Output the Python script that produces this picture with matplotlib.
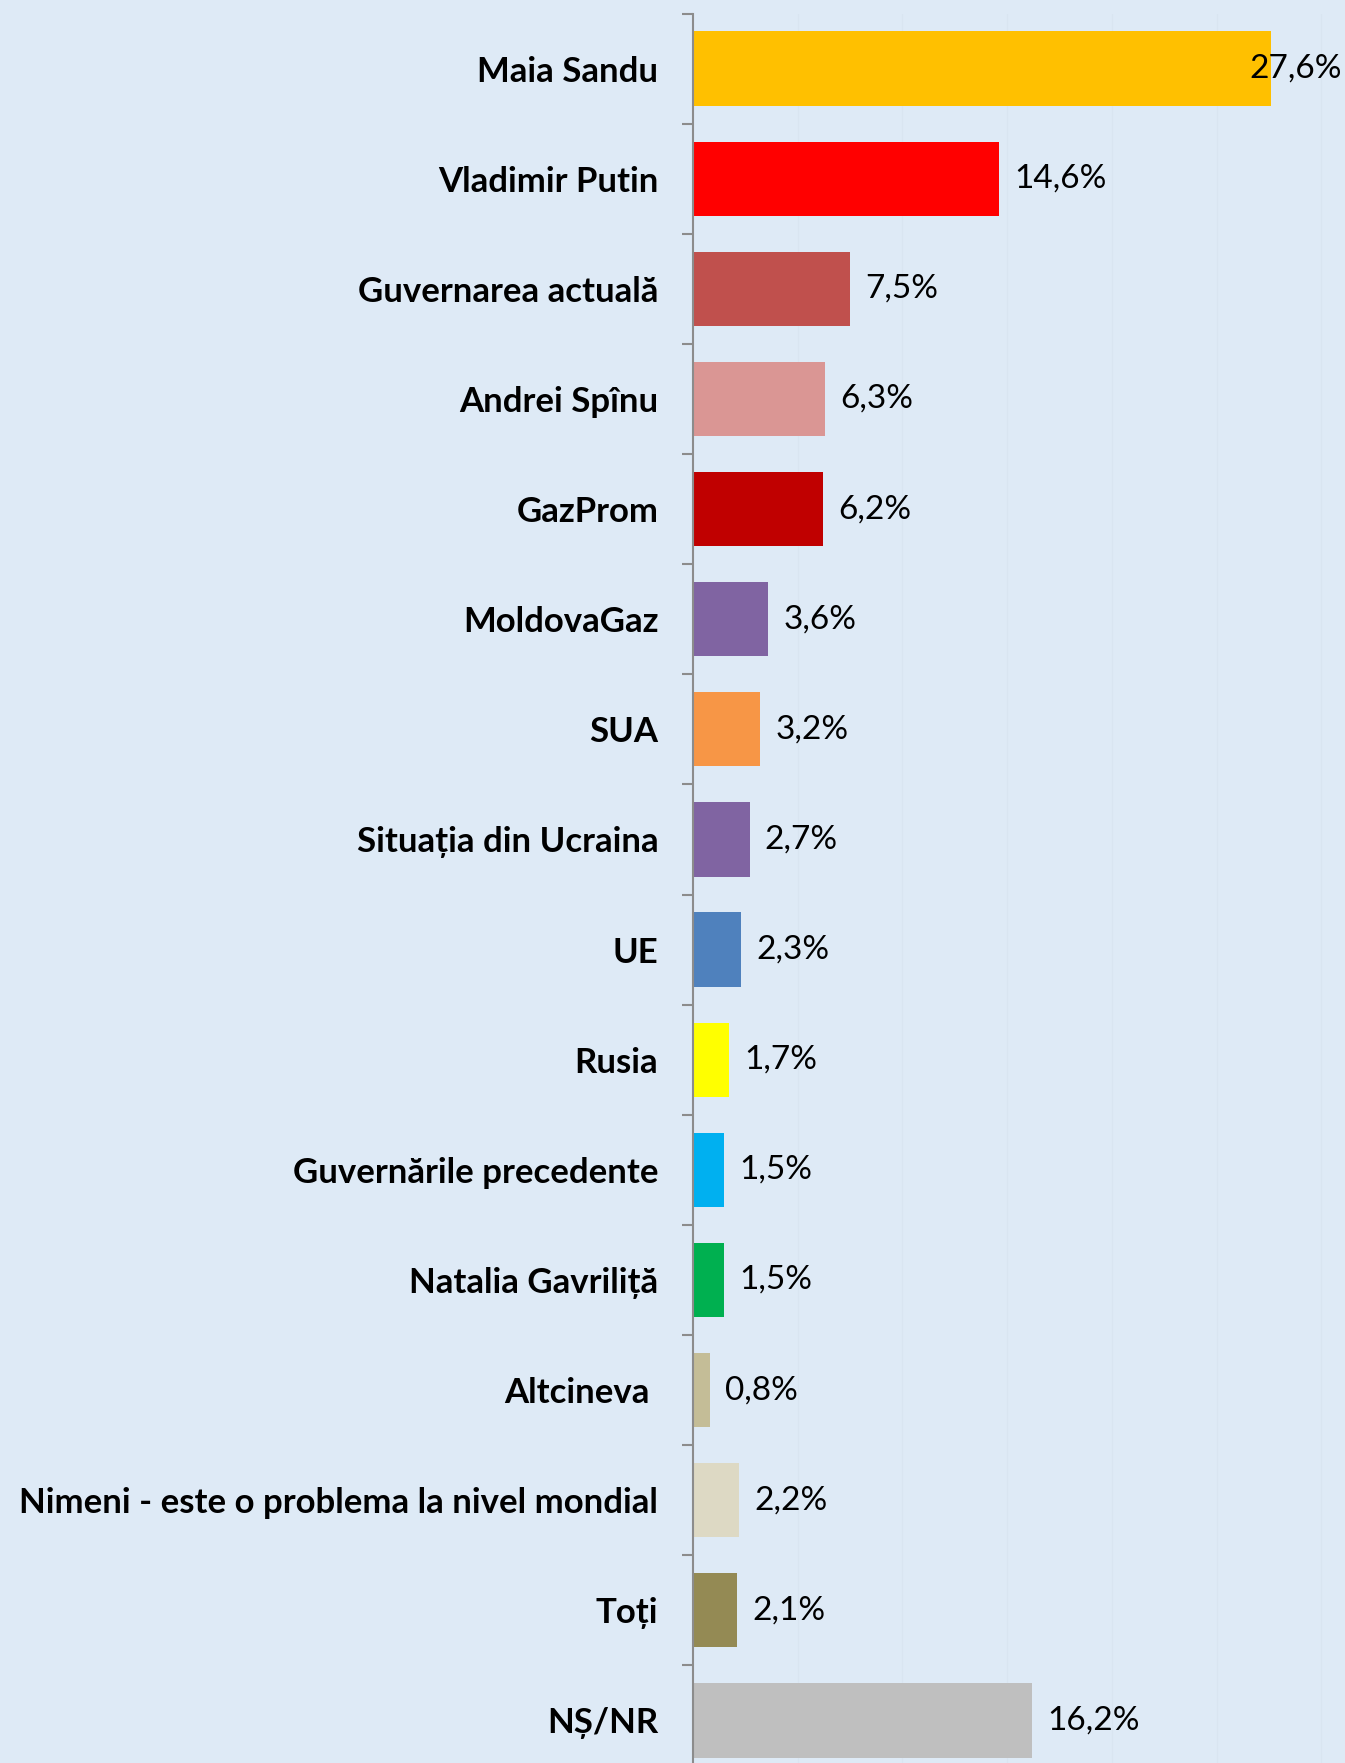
import matplotlib
matplotlib.use("Agg")
import matplotlib.pyplot as plt
from matplotlib.ticker import FixedLocator, NullFormatter

categories = ["Maia Sandu", "Vladimir Putin", "Guvernarea actuală", "Andrei Spînu",
              "GazProm", "MoldovaGaz", "SUA", "Situația din Ucraina", "UE", "Rusia",
              "Guvernările precedente", "Natalia Gavriliță", "Altcineva ",
              "Nimeni - este o problema la nivel mondial", "Toți", "NȘ/NR"]
values = [27.6, 14.6, 7.5, 6.3, 6.2, 3.6, 3.2, 2.7, 2.3, 1.7, 1.5, 1.5, 0.8, 2.2, 2.1, 16.2]
value_labels = ["27,6%", "14,6%", "7,5%", "6,3%", "6,2%", "3,6%", "3,2%", "2,7%", "2,3%",
                "1,7%", "1,5%", "1,5%", "0,8%", "2,2%", "2,1%", "16,2%"]
colors = ["#FFC000", "#FF0000", "#C0504D", "#DA9694", "#C00000", "#8064A2", "#F79646",
          "#8064A2", "#4F81BD", "#FFFF00", "#00B0F0", "#00B050", "#C4BD97", "#DDD9C4",
          "#948A54", "#BFBFBF"]

bg = "#DEEAF6"
W, H = 1345, 1763
fig = plt.figure(figsize=(W / 100, H / 100), dpi=100, facecolor=bg)
ax_left = 693 / W
ax_top = 13.5 / H
ax_h = 1762 / H
ax = fig.add_axes([ax_left, 1 - ax_top - ax_h, 1 - ax_left, ax_h], facecolor=bg)

n = len(categories)
pos = list(range(n))
ax.barh(pos, values, height=0.675, color=colors, zorder=3)
ax.set_ylim(n - 0.5, -0.5)
ax.set_xlim(0, 31.13)

ax.set_yticks(pos)
ax.set_yticklabels(categories, fontsize=25, fontweight="bold", family=["Lato", "DejaVu Sans"])
ax.yaxis.set_minor_locator(FixedLocator([i - 0.5 for i in range(n + 1)]))
ax.tick_params(axis="y", which="major", length=0, pad=25)
ax.tick_params(axis="y", which="minor", length=8, width=1.5, color="#8C8C8C")
ax.set_xticks([5, 10, 15, 20, 25, 30])
ax.xaxis.set_major_formatter(NullFormatter())
ax.tick_params(axis="x", length=0)
ax.grid(axis="x", color="#D9E5F1", linewidth=1, zorder=0)

for s in ["top", "right", "bottom"]:
    ax.spines[s].set_visible(False)
ax.spines["left"].set_color("#8C8C8C")
ax.spines["left"].set_linewidth(1.5)
ax.spines["left"].set_zorder(4)

for i, (v, lab) in enumerate(zip(values, value_labels)):
    if i == 0:
        ax.annotate(lab, xy=(1.0, i), xycoords=("axes fraction", "data"),
                    xytext=(-2, 0), textcoords="offset points", ha="right", va="center",
                    fontsize=24, family=["Lato", "DejaVu Sans"], zorder=5)
    else:
        ax.annotate(lab, xy=(v, i), xytext=(11, 0), textcoords="offset points",
                    ha="left", va="center", fontsize=24, family=["Lato", "DejaVu Sans"], zorder=5)

fig.savefig("out.png", dpi=100, facecolor=bg)
